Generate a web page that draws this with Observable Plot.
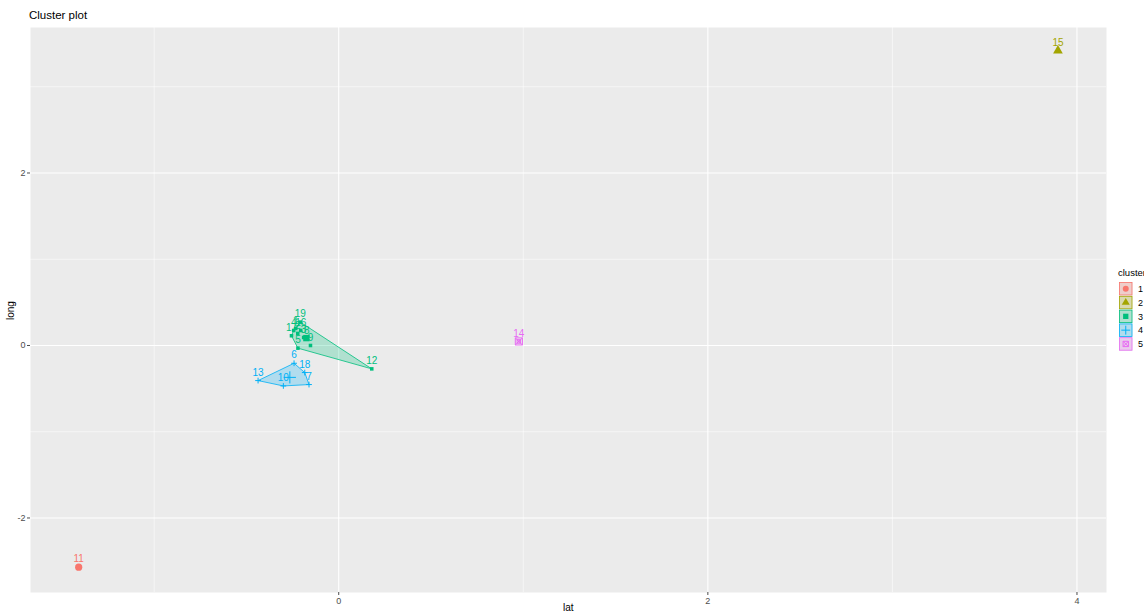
<!DOCTYPE html>
<html><head><meta charset="utf-8">
<script src="https://cdn.jsdelivr.net/npm/d3@7"></script>
<script src="https://cdn.jsdelivr.net/npm/@observablehq/plot@0.6"></script>
<style>
body{margin:0;background:#fff;font-family:"Liberation Sans",Arial,sans-serif;}
#wrap{position:relative;width:1144px;height:612px;overflow:hidden;}
#wrap svg{position:absolute;left:0;top:0;}
.t{position:absolute;white-space:nowrap;color:#000;}
</style></head><body><div id="wrap"></div>
<script>
// ---- data ----
const ids     = ["1","2","3","4","5","8","9","12","16","17","19","6","7","10","13","18","11","15","14"];
const lat     = [-0.233,-0.222,-0.190,-0.244,-0.221,-0.173,-0.153,0.179,-0.206,-0.256,-0.208,-0.242,-0.161,-0.300,-0.437,-0.184,-1.409,3.897,0.976];
const long    = [0.198,0.140,0.093,0.174,-0.031,0.081,0.000,-0.271,0.174,0.113,0.271,-0.206,-0.453,-0.469,-0.407,-0.314,-2.570,3.419,0.047];
const cluster = ["3","3","3","3","3","3","3","3","3","3","3","4","4","4","4","4","1","2","5"];
const clusterNames = ["1","2","3","4","5"];
const colors = ["#F8766D","#A3A500","#00BF7D","#00B0F6","#E76BF3"];
const xTicks = [0,2,4], xMinor = [-1,1,3];
const yTicks = [-2,0,2], yMinor = [-1,1,3];

// ---- build table ----
const rows = ids.map((id,i)=>({id, lat:lat[i], long:long[i], cluster:cluster[i]}));
const centers = clusterNames.map(c=>{
  const r = rows.filter(d=>d.cluster===c);
  return {cluster:c, lat:d3.mean(r,d=>d.lat), long:d3.mean(r,d=>d.long)};
});
const boxX = {draw(ctx,size){const r=Math.sqrt(size)/2;ctx.moveTo(-r,-r);ctx.lineTo(r,-r);ctx.lineTo(r,r);ctx.lineTo(-r,r);ctx.closePath();ctx.moveTo(-r,-r);ctx.lineTo(r,r);ctx.moveTo(r,-r);ctx.lineTo(-r,r);}};
const symFor = {"1":"circle","2":"triangle","3":"square","4":"plus","5":boxX};
const filled = new Set(["1","2","3"]);
const fmt = d => String(d);

const marks = [
  Plot.frame({fill:"#EBEBEB", stroke:null}),
  Plot.ruleX(xMinor,{stroke:"white",strokeWidth:0.55}),
  Plot.ruleY(yMinor,{stroke:"white",strokeWidth:0.55}),
  Plot.ruleX(xTicks,{stroke:"white",strokeWidth:1.1}),
  Plot.ruleY(yTicks,{stroke:"white",strokeWidth:1.1}),
  Plot.hull(rows,{x:"lat",y:"long",z:"cluster",fill:"cluster",fillOpacity:0.25,stroke:"cluster",strokeWidth:0.8})
];
for (const c of clusterNames) {
  const f = filled.has(c);
  const pts = rows.filter(d=>d.cluster===c);
  const cen = centers.filter(d=>d.cluster===c);
  const opt = f ? {fill:"cluster", stroke:null} : {stroke:"cluster", fill:null, strokeWidth:1};
  marks.push(Plot.dot(pts,{x:"lat",y:"long",symbol:symFor[c],r:2,...opt}));
  marks.push(Plot.dot(cen,{x:"lat",y:"long",symbol:symFor[c],r:f?3.6:4,...opt}));
}
marks.push(Plot.text(rows,{x:"lat",y:"long",text:"id",fill:"cluster",dy:-8,fontSize:10}));
marks.push(Plot.axisX(xTicks,{anchor:"bottom",tickSize:3,tickPadding:2,fontSize:9,color:"#4D4D4D",label:null,tickFormat:fmt}));
marks.push(Plot.axisY(yTicks,{anchor:"left",tickSize:3,tickPadding:2,fontSize:9,color:"#4D4D4D",label:null,tickFormat:fmt}));

const chart = Plot.plot({
  width:1144, height:612,
  marginLeft:30, marginRight:38, marginTop:27, marginBottom:20,
  x:{domain:[-1.67,4.16]},
  y:{domain:[-2.864,3.687]},
  color:{domain:clusterNames, range:colors},
  style:{background:"transparent", fontFamily:"Liberation Sans, Arial, sans-serif"},
  marks
});
const wrap = document.getElementById("wrap");
wrap.appendChild(chart);

// titles
function addText(txt, css){const d=document.createElement("div");d.className="t";d.textContent=txt;Object.assign(d.style,css);wrap.appendChild(d);return d;}
addText("Cluster plot",{left:"29px",top:"9px",fontSize:"11.5px"});
addText("lat",{left:"563px",top:"602px",fontSize:"10px"});
addText("long",{left:"2px",top:"303px",fontSize:"10px",transform:"rotate(-90deg)",transformOrigin:"10px 7px"});

// legend
const lg = d3.select(wrap).append("svg").attr("width",40).attr("height",100)
  .style("left","1114px").style("top","266px");
lg.append("text").attr("x",4).attr("y",10).attr("font-size",9.5).attr("fill","#000")
  .attr("font-family","Liberation Sans, Arial, sans-serif").text("cluster");
clusterNames.forEach((c,i)=>{
  const y0 = 16 + i*13.8;
  const g = lg.append("g").attr("transform",`translate(5,${y0})`);
  g.append("rect").attr("width",13.5).attr("height",13.5).attr("fill","#EBEBEB");
  g.append("rect").attr("x",0.5).attr("y",0.5).attr("width",12.5).attr("height",12.5)
    .attr("fill",colors[i]).attr("fill-opacity",0.25).attr("stroke",colors[i]).attr("stroke-width",0.8);
  const s = symFor[c];
  const symObj = s===boxX ? boxX : ({circle:d3.symbolCircle,triangle:d3.symbolTriangle,square:d3.symbolSquare,plus:d3.symbolPlus})[s];
  const p = g.append("path").attr("transform","translate(6.75,6.75)").attr("d",d3.symbol(symObj, 28)());
  if (filled.has(c)) p.attr("fill",colors[i]); else p.attr("fill","none").attr("stroke",colors[i]).attr("stroke-width",1);
  lg.append("text").attr("x",24).attr("y",y0+10).attr("font-size",9).attr("fill","#000")
    .attr("font-family","Liberation Sans, Arial, sans-serif").text(c);
});
</script></body></html>
